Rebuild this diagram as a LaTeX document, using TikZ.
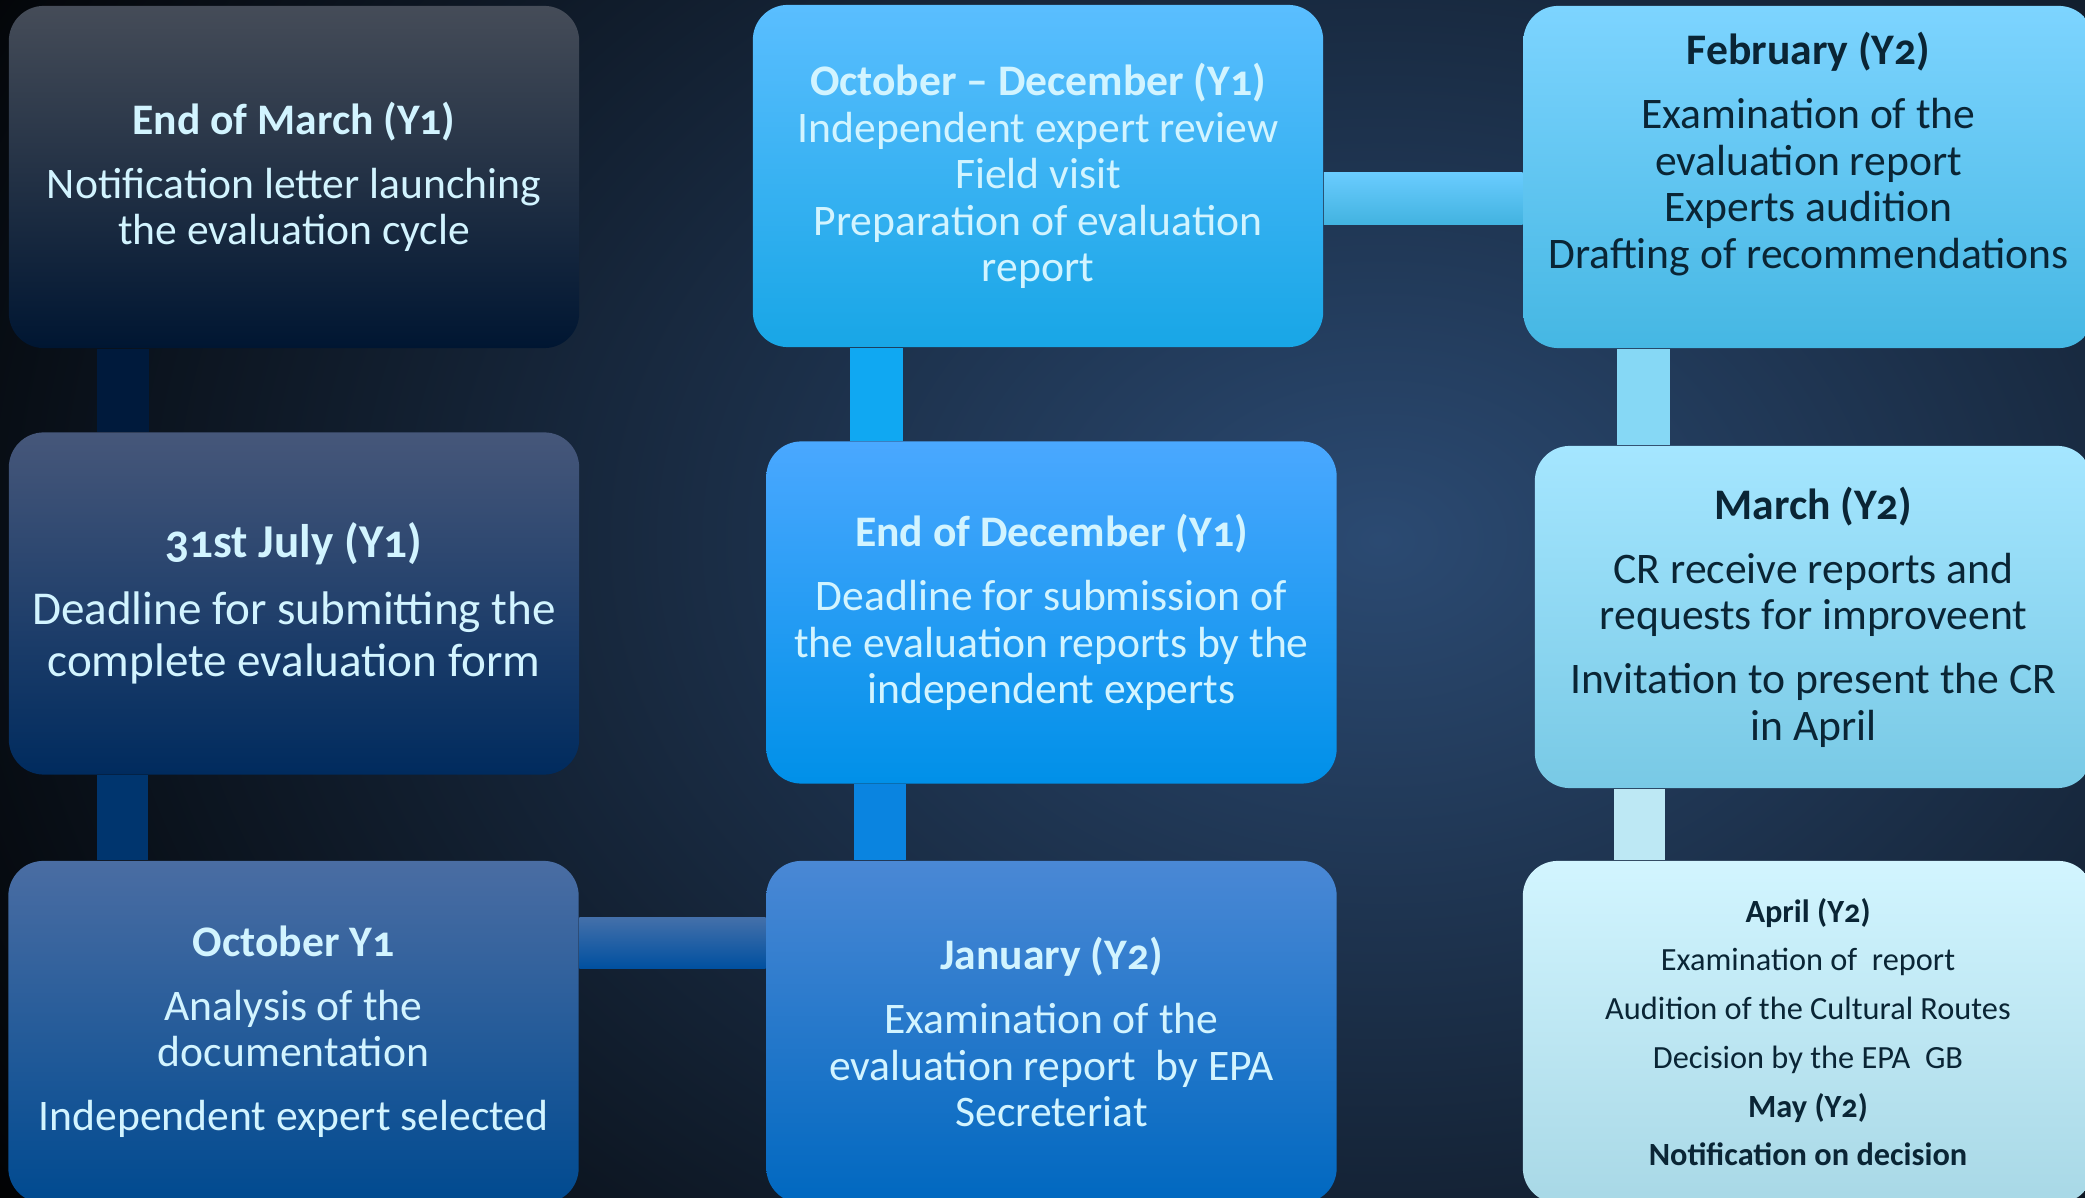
\documentclass[tikz,border=0pt]{standalone}
\usepackage{fontspec}
\setmainfont{Carlito}[Numbers=OldStyle]
\usetikzlibrary{calc}

\definecolor{bgglow}{HTML}{2B4A72}
\definecolor{lighttext}{HTML}{D2F4FF}
\definecolor{darktext}{HTML}{0A2535}
% stage colours: top / middle / bottom
\definecolor{marTop}{HTML}{454C58}\definecolor{marMid}{HTML}{0B1D38}\definecolor{marBot}{HTML}{001632}
\definecolor{julTop}{HTML}{46577A}\definecolor{julMid}{HTML}{0C3363}\definecolor{julBot}{HTML}{002B5E}
\definecolor{octTop}{HTML}{4A6DA3}\definecolor{octMid}{HTML}{0A56A0}\definecolor{octBot}{HTML}{004A90}
\definecolor{odeTop}{HTML}{5ABEFF}\definecolor{odeMid}{HTML}{27B5F8}\definecolor{odeBot}{HTML}{18A6E6}
\definecolor{decTop}{HTML}{4AA8FF}\definecolor{decMid}{HTML}{0A9CFF}\definecolor{decBot}{HTML}{0090E8}
\definecolor{janTop}{HTML}{4A88D5}\definecolor{janMid}{HTML}{0A75D0}\definecolor{janBot}{HTML}{0068C0}
\definecolor{febTop}{HTML}{7DD4FF}\definecolor{febMid}{HTML}{55C8F5}\definecolor{febBot}{HTML}{45B7E3}
\definecolor{mrzTop}{HTML}{A5E6FF}\definecolor{mrzMid}{HTML}{90DEF8}\definecolor{mrzBot}{HTML}{78C9E5}
\definecolor{aprTop}{HTML}{D2F5FF}\definecolor{aprMid}{HTML}{C0EAF5}\definecolor{aprBot}{HTML}{A8D8E6}
% link colours
\definecolor{linkA}{HTML}{001A3C}
\definecolor{linkB}{HTML}{00356E}
\definecolor{linkCt}{HTML}{4470AA}\definecolor{linkCb}{HTML}{0050A0}
\definecolor{linkD}{HTML}{0A84E0}
\definecolor{linkE}{HTML}{10A8F2}
\definecolor{linkFt}{HTML}{6ACCFF}\definecolor{linkFm}{HTML}{50C8FF}\definecolor{linkFb}{HTML}{42B3E0}
\definecolor{linkG}{HTML}{86D8F5}
\definecolor{linkH}{HTML}{BDE8F4}

\tikzset{
    stage/.style={rounded corners=0.35cm, minimum width=5.7cm, minimum height=3.42cm,
        align=center, inner sep=0pt, font=\fontsize{12.4}{13.2}\selectfont},
    darkstage/.style={stage, text=lighttext},
    lightstage/.style={stage, text=darktext},
}

\begin{document}
\begin{tikzpicture}[x=0.01cm, y=-0.01cm]
    \useasboundingbox (0,0) rectangle (2085,1198);
    % % ----- background ----- % %
    \fill [black] (0,0) rectangle (2085,1198);
    \begin{scope}
        \clip (0,0) rectangle (2085,1198);
        \shade [inner color=bgglow, outer color=black] (1380,540) ellipse (1700 and 1250);
    \end{scope}
    % % ----- stages ----- % %
    \node [darkstage, top color=marTop, middle color=marMid, bottom color=marBot]
        (march1) at (294,177) {\textbf{End of March (Y1)}\\[5pt] Notification letter launching\\ the evaluation cycle}; 	% Y1, March
    \node [darkstage, font=\fontsize{13.4}{14}\selectfont, top color=julTop, middle color=julMid, bottom color=julBot]
        (july1) at (294,603.5) {\textbf{31st July (Y1)}\\[5pt] Deadline for submitting the\\[1pt] complete evaluation form}; 	% Y1, July
    \node [darkstage, top color=octTop, middle color=octMid, bottom color=octBot]
        (october1) at (293.5,1032) {\textbf{October Y1}\\[5pt] Analysis of the\\ documentation\\[5pt] Independent expert selected}; 	% Y1, October
    \node [darkstage, top color=odeTop, middle color=odeMid, bottom color=odeBot]
        (octdec1) at (1038,176) {\textbf{October -- December (Y1)}\\ Independent expert review\\ Field visit\\ Preparation of evaluation\\ report}; 	% Y1, Oct-Dec
    \node [darkstage, top color=decTop, middle color=decMid, bottom color=decBot]
        (december1) at (1051.5,612.5) {\textbf{End of December (Y1)}\\[5pt] Deadline for submission of\\ the evaluation reports by the\\ independent experts}; 	% Y1, December
    \node [darkstage, top color=janTop, middle color=janMid, bottom color=janBot]
        (january2) at (1051.5,1032) {\textbf{January (Y2)}\\[5pt] Examination of the\\ evaluation report\ \ by EPA\\ Secreteriat}; 	% Y2, January
    \node [lightstage, top color=febTop, middle color=febMid, bottom color=febBot]
        (february2) at (1808.5,177) {\textbf{February (Y2)}\\[5pt] Examination of the\\ evaluation report\\ Experts audition\\ Drafting of recommendations\\[2pt] ~}; 	% Y2, February
    \node [lightstage, minimum width=5.57cm, top color=mrzTop, middle color=mrzMid, bottom color=mrzBot]
        (march2) at (1813.5,617) {\textbf{March (Y2)}\\[5pt] CR receive reports and\\ requests for improveent\\[5pt] Invitation to present the CR\\ in April}; 	% Y2, March
    \node [lightstage, font=\fontsize{9.2}{13.86}\selectfont, top color=aprTop, middle color=aprMid, bottom color=aprBot]
        (april2) at (1808,1032) {\textbf{April (Y2)}\\ Examination of\ \ report\\ Audition of the Cultural Routes\\ Decision by the EPA\ \ GB\\ \textbf{May (Y2)}\\ \textbf{Notification on decision}}; 	% Y2, April-May
    % % ----- links ----- % %
    \fill [linkA] ($(march1.south west)+(89,0)$) rectangle ($(july1.north west)+(141,0)$); 		% march1-july1
    \fill [linkB] ($(july1.south west)+(89,0)$) rectangle ($(october1.north west)+(140,0)$); 		% july1-october1
    \shade [top color=linkCt, bottom color=linkCb] ($(october1.north east)+(0,57)$) rectangle ($(january2.north west)+(0,108)$); 	% october1-january2
    \fill [linkD] ($(december1.south west)+(88,0)$) rectangle ($(january2.north west)+(140,0)$); 	% january2-december1
    \fill [linkE] ($(octdec1.south west)+(98,0)$) rectangle ($(december1.north west)+(137,0)$); 	% december1-octdec1
    \shade [top color=linkFt, middle color=linkFm, bottom color=linkFb] ($(octdec1.north east)+(0,168)$) rectangle ($(february2.north west)+(0,219)$); 	% octdec1-february2
    \fill [linkG] ($(february2.south west)+(94,0)$) rectangle ($(march2.north west)+(136,0)$); 	% february2-march2
    \fill [linkH] ($(march2.south west)+(80,0)$) rectangle ($(april2.north west)+(143,0)$); 	% march2-april2
\end{tikzpicture}
\end{document}
